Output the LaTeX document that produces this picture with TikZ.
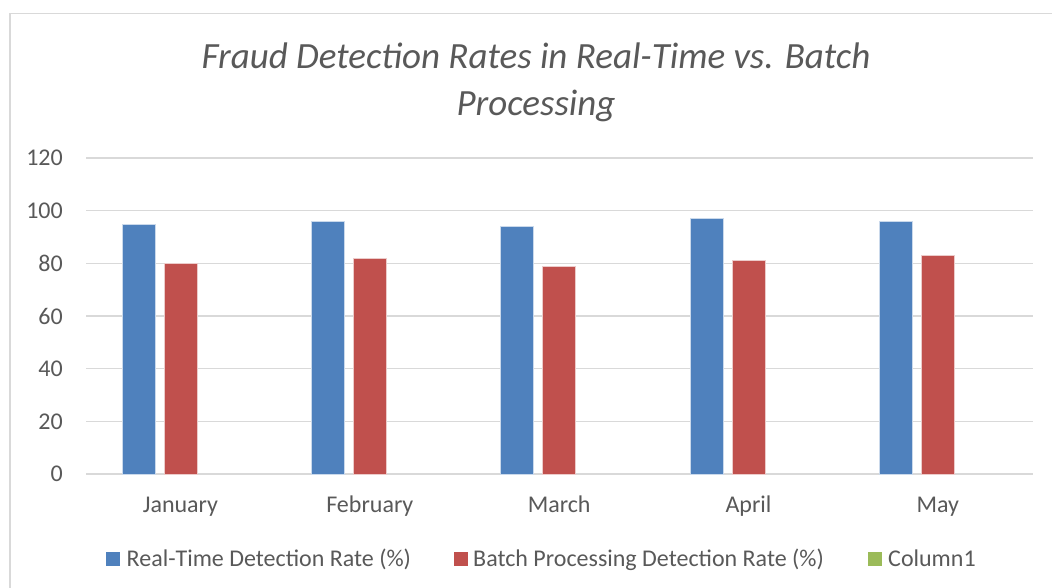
\documentclass[tikz,border=0pt]{standalone}
\usepackage{fontspec}
\setmainfont{Carlito}
\definecolor{txt}{HTML}{595959}
\definecolor{grid}{HTML}{D9D9D9}
\definecolor{sblue}{HTML}{4F81BD}
\definecolor{sred}{HTML}{C0504D}
\definecolor{sgreen}{HTML}{9BBB59}
\tikzset{
  gridline/.style={draw=grid, line width=1.3pt},
  bar/.style={draw=white!70!#1, line width=0.6pt, fill=#1},
  ticklab/.style={anchor=east, text=txt, font=\fontsize{24}{28}\selectfont, inner sep=0pt},
  catlab/.style={anchor=base, text=txt, font=\fontsize{24}{28}\selectfont, inner sep=0pt},
  leglab/.style={anchor=base west, text=txt, font=\fontsize{24}{28}\selectfont, inner sep=0pt},
  legsq/.style={fill=#1, draw=none},
}
\begin{document}
\begin{tikzpicture}[x=1pt,y=-1pt]
\useasboundingbox (0,0) rectangle (1052,588);
\fill[white] (0,0) rectangle (1052,588);
\begin{scope}
\clip (0,0) rectangle (1052,588);
\draw[draw=grid, line width=1.2pt] (10,13.5) rectangle (1070,610);
\end{scope}
% title
\node[text=txt, font=\fontsize{37}{47}\selectfont\itshape, align=center, anchor=center] (title) at (536,82)
  {Fraud Detection Rates in Real-Time vs. Batch\\Processing};
% gridlines and tick labels
\foreach \v/\n in {0/t0,20/t20,40/t40,60/t60,80/t80,100/t100,120/t120}{
  \draw[gridline] (86,{474-\v*2.633}) -- (1032.7,{474-\v*2.633});
  \node[ticklab] (\n) at (63,{474-\v*2.633}) {\v};
}
% bars
\foreach \i/\a/\b/\m in {0/95/80/January,1/96/82/February,2/94/79/March,3/97/81/April,4/96/83/May}{
  \pgfmathsetmacro{\xs}{122+\i*189.33}
  \draw[bar=sblue] (\xs,474) rectangle ({\xs+33},{474-\a*2.633});
  \draw[bar=sred] ({\xs+42},474) rectangle ({\xs+75},{474-\b*2.633});
  \node[catlab] (c\i) at ({\xs+58.5},512) {\m};
}
% legend
\fill[legsq=sblue] (106,552) rectangle (120,566);
\node[leglab] (l1) at (126.5,566) {Real-Time Detection Rate (\%)};
\fill[legsq=sred] (454,552) rectangle (468,566);
\node[leglab] (l2) at (473,566) {Batch Processing Detection Rate (\%)};
\fill[legsq=sgreen] (868,552) rectangle (882,566);
\node[leglab] (l3) at (888,566) {Column1};
\end{tikzpicture}
\end{document}
